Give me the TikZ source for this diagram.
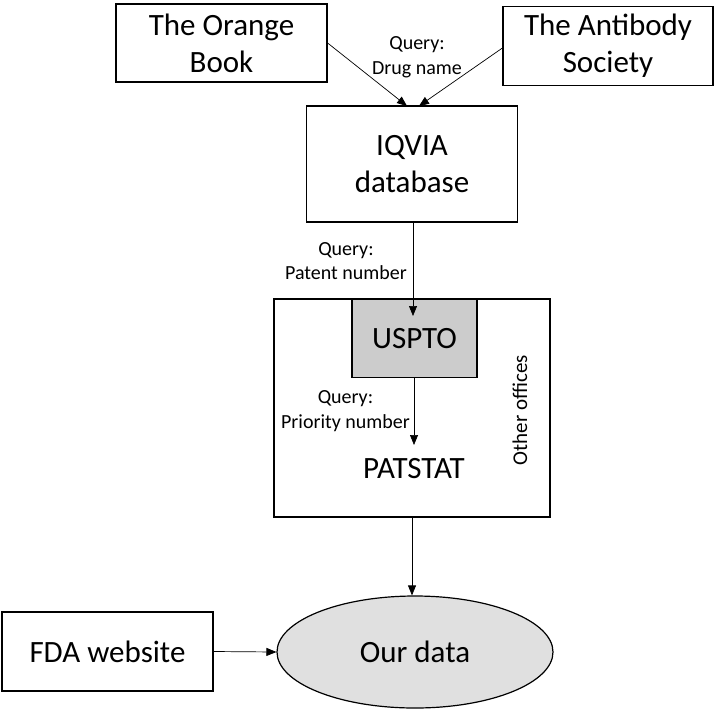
\documentclass[tikz,border=0pt]{standalone}
\usepackage{fontspec}
\setmainfont{Carlito}
\usetikzlibrary{shapes.geometric,arrows.meta}
\definecolor{usgray}{gray}{0.80}
\definecolor{ourgray}{gray}{0.88}
\begin{document}
\begin{tikzpicture}[x=1pt,y=-1pt,
  big/.style={font=\fontsize{31}{37}\selectfont},
  small/.style={font=\fontsize{20}{24.5}\selectfont},
  box/.style={draw,line width=1.2pt,inner sep=0pt,big,align=center},
  conn/.style={line width=0.7pt,-{Triangle[length=10pt,width=8pt]}}]
\useasboundingbox (0,0) rectangle (717,710);
\node[box,minimum width=211pt,minimum height=78pt] (orange) at (221.5,43) {The Orange\\Book};
\node[box,minimum width=210pt,minimum height=79pt] (antibody) at (608,46) {The Antibody\\Society};
\node[box,minimum width=211pt,minimum height=116pt] (iqvia) at (412,164) {IQVIA\\database};
\node[draw,line width=1.2pt,minimum width=276pt,minimum height=218pt,inner sep=0pt] (outer) at (412,408) {};
\node[box,fill=usgray,minimum width=125pt,minimum height=78pt,anchor=north] (uspto) at (414.5,299) {USPTO};
\node[big,inner sep=0pt] (patstat) at (414,469) {PATSTAT};
\node[font=\fontsize{21}{25}\selectfont,rotate=90,inner sep=0pt] (other) at (520,410) {Other offices};
\node[ellipse,draw,line width=1.2pt,fill=ourgray,minimum width=276pt,minimum height=112pt,inner sep=0pt,big] (our) at (415,652) {Our data};
\node[box,minimum width=211pt,minimum height=79pt] (fda) at (107.5,651.5) {FDA website};
\node[small,align=center,inner sep=0pt] (qdrug) at (417,57) {Query:\\Drug name};
\node[small,align=center,inner sep=0pt,anchor=east] (qpat) at (407,261) {Query:\\Patent number};
\node[small,align=center,inner sep=0pt,anchor=east] (qprio) at (410,411) {Query:\\Priority number};
\coordinate (in1) at (407,106);
\coordinate (in2) at (419,106);
\draw[conn] (orange.east |- 0,43) -- (in1);
\draw[conn] (antibody.west |- 0,48) -- (in2);
\draw[conn] (iqvia.south -| 413,0) -- (413,316);
\draw[conn] (uspto.south -| 414,0) -- (414,445);
\draw[conn] (outer.south -| 412,0) -- (our.north -| 412,0);
\draw[conn] (fda.east) -- (our.west);
\end{tikzpicture}
\end{document}
